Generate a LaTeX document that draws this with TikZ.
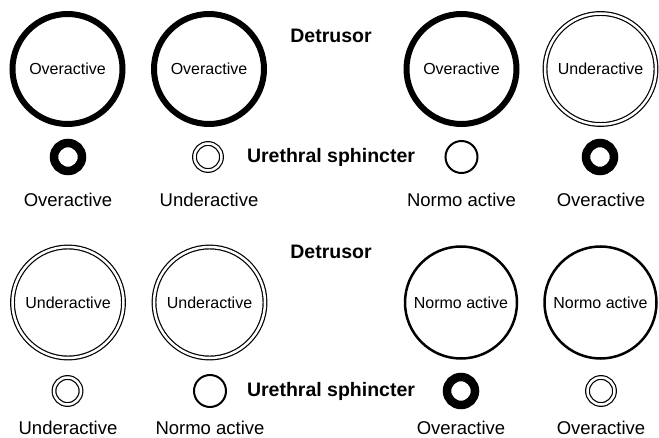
\documentclass[tikz,border=0pt]{standalone}
\usepackage{fontspec}
\setmainfont{Liberation Sans}
\begin{document}
\begin{tikzpicture}[x=1pt,y=-1pt,
  bigthick/.style={circle,draw,line width=6pt,minimum size=110pt,inner sep=0pt,font=\fontsize{16}{18}\selectfont},
  bigdouble/.style={circle,draw,line width=1.2pt,double,double distance=2.5pt,minimum size=111pt,inner sep=0pt,font=\fontsize{16}{18}\selectfont},
  bignormo/.style={circle,draw,line width=2.5pt,minimum size=112pt,inner sep=0pt,font=\fontsize{16}{18}\selectfont},
  smallthick/.style={circle,draw,line width=8.5pt,minimum size=28pt,inner sep=0pt},
  smalldouble/.style={circle,draw,line width=1.2pt,double,double distance=2.5pt,minimum size=27pt,inner sep=0pt},
  smallnormo/.style={circle,draw,line width=2pt,minimum size=32pt,inner sep=0pt},
  lbl/.style={font=\fontsize{18.5}{20}\selectfont,inner sep=0pt},
  head/.style={font=\fontsize{19.5}{21}\selectfont\bfseries,inner sep=0pt}]
\useasboundingbox (0,0) rectangle (659,438);
% Row 1
\node[head] (d1) at (331,36) {Detrusor};
\node[head] (u1) at (331,157) {Urethral sphincter};
\node[bigthick] (a1) at (67.5,69) {Overactive};
\node[bigthick] (a2) at (209,69) {Overactive};
\node[bigthick] (a3) at (461.5,69) {Overactive};
\node[bigdouble] (a4) at (600.5,69) {Underactive};
\node[smallthick] (s1) at (68,157) {};
\node[smalldouble] (s2) at (208,157) {};
\node[smallnormo] (s3) at (461.5,157) {};
\node[smallthick] (s4) at (600,157) {};
\node[lbl] (l1) at (68,200) {Overactive};
\node[lbl] (l2) at (209,200) {Underactive};
\node[lbl] (l3) at (461.5,200) {Normo active};
\node[lbl] (l4) at (601,200) {Overactive};
% Row 2
\node[head] (d2) at (331,252) {Detrusor};
\node[head] (u2) at (331,391) {Urethral sphincter};
\node[bigdouble] (b1) at (68,302.5) {Underactive};
\node[bigdouble] (b2) at (209.5,302.5) {Underactive};
\node[bignormo] (b3) at (461,302.5) {Normo active};
\node[bignormo] (b4) at (600.5,302.5) {Normo active};
\node[smalldouble] (t1) at (67.5,391) {};
\node[smallnormo] (t2) at (210,391) {};
\node[smallthick] (t3) at (461,391) {};
\node[smalldouble] (t4) at (601,391) {};
\node[lbl] (m1) at (68,427.5) {Underactive};
\node[lbl] (m2) at (210,427.5) {Normo active};
\node[lbl] (m3) at (461,427.5) {Overactive};
\node[lbl] (m4) at (601,427.5) {Overactive};
\end{tikzpicture}
\end{document}
